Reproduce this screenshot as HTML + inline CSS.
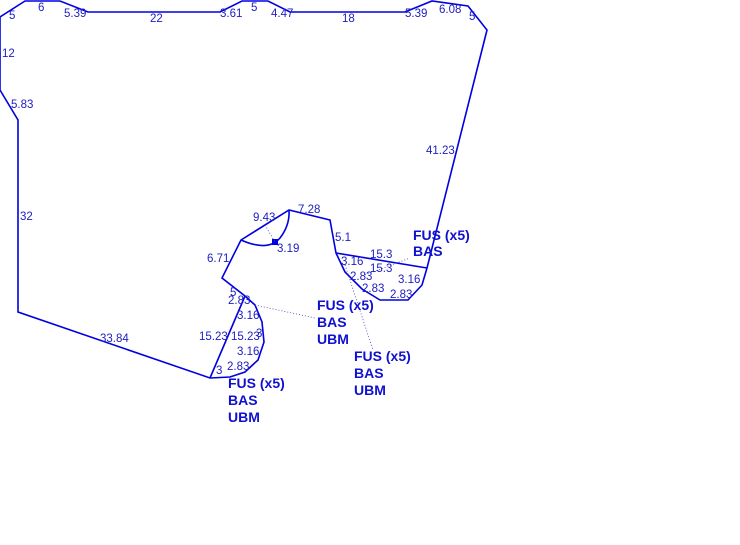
<!DOCTYPE html>
<html><head><style>body{margin:0;background:#fff}svg{display:block}text{font-family:"Liberation Sans",sans-serif;font-size:11.5px;fill:#2020c0}.b{font-weight:bold;font-size:14px;fill:#1010d0}</style></head><body>
<svg width="740" height="545" viewBox="0 0 740 545">
<g fill="none" stroke="#0000e0" stroke-width="1.6">
<polyline points="0,17 25,1 60,1 88,12 220,12 242,1 268,1 290,12 405,12 432,1 468,6 487,30 427,268 422,285 408,300 380,300 362,289 345,272 336,253 330,220 289,210 241,240 222,278 245,296 255,305 262,322 264,342 258,360 245,372 230,377 210,378 18,312 18,120 0,90 0,17"/>
<line x1="336" y1="253" x2="427" y2="268"/>
<line x1="245" y1="296" x2="210" y2="378"/>
<path d="M241,240 Q268,252 280,238 Q290,225 289,210"/>
</g>
<rect x="272" y="239" width="6" height="6" fill="#0000e0"/>
<g stroke="#4040c0" stroke-width="0.8" stroke-dasharray="1,2" fill="none">
<line x1="265" y1="225" x2="275" y2="242"/>
<line x1="255" y1="305" x2="315" y2="318"/>
<line x1="345" y1="265" x2="373" y2="350"/>
<line x1="365" y1="275" x2="410" y2="258"/>
</g>
<text x="9" y="19">5</text><text x="38" y="11">6</text><text x="64" y="17">5.39</text><text x="150" y="22">22</text>
<text x="220" y="17">3.61</text><text x="251" y="11">5</text><text x="271" y="17">4.47</text><text x="342" y="22">18</text>
<text x="405" y="17">5.39</text><text x="439" y="13">6.08</text><text x="469" y="20">5</text>
<text x="2" y="57">12</text><text x="11" y="108">5.83</text><text x="20" y="220">32</text><text x="100" y="342">33.84</text>
<text x="426" y="154">41.23</text><text x="253" y="221">9.43</text><text x="298" y="213">7.28</text><text x="277" y="252">3.19</text>
<text x="335" y="241">5.1</text><text x="207" y="262">6.71</text><text x="370" y="258">15.3</text><text x="370" y="272">15.3</text>
<text x="341" y="265">3.16</text><text x="350" y="280">2.83</text><text x="398" y="283">3.16</text><text x="362" y="292">2.83</text><text x="390" y="298">2.83</text>
<text x="230" y="296">5</text><text x="228" y="304">2.83</text><text x="237" y="319">3.16</text><text x="199" y="340">15.23</text><text x="231" y="340">15.23</text><text x="256" y="337">3</text>
<text x="237" y="355">3.16</text><text x="216" y="374">3</text><text x="227" y="370">2.83</text>
<text class="b" x="413" y="240">FUS (x5)</text><text class="b" x="413" y="256">BAS</text>
<text class="b" x="317" y="310">FUS (x5)</text><text class="b" x="317" y="327">BAS</text><text class="b" x="317" y="344">UBM</text>
<text class="b" x="354" y="361">FUS (x5)</text><text class="b" x="354" y="378">BAS</text><text class="b" x="354" y="395">UBM</text>
<text class="b" x="228" y="388">FUS (x5)</text><text class="b" x="228" y="405">BAS</text><text class="b" x="228" y="422">UBM</text>
</svg></body></html>
